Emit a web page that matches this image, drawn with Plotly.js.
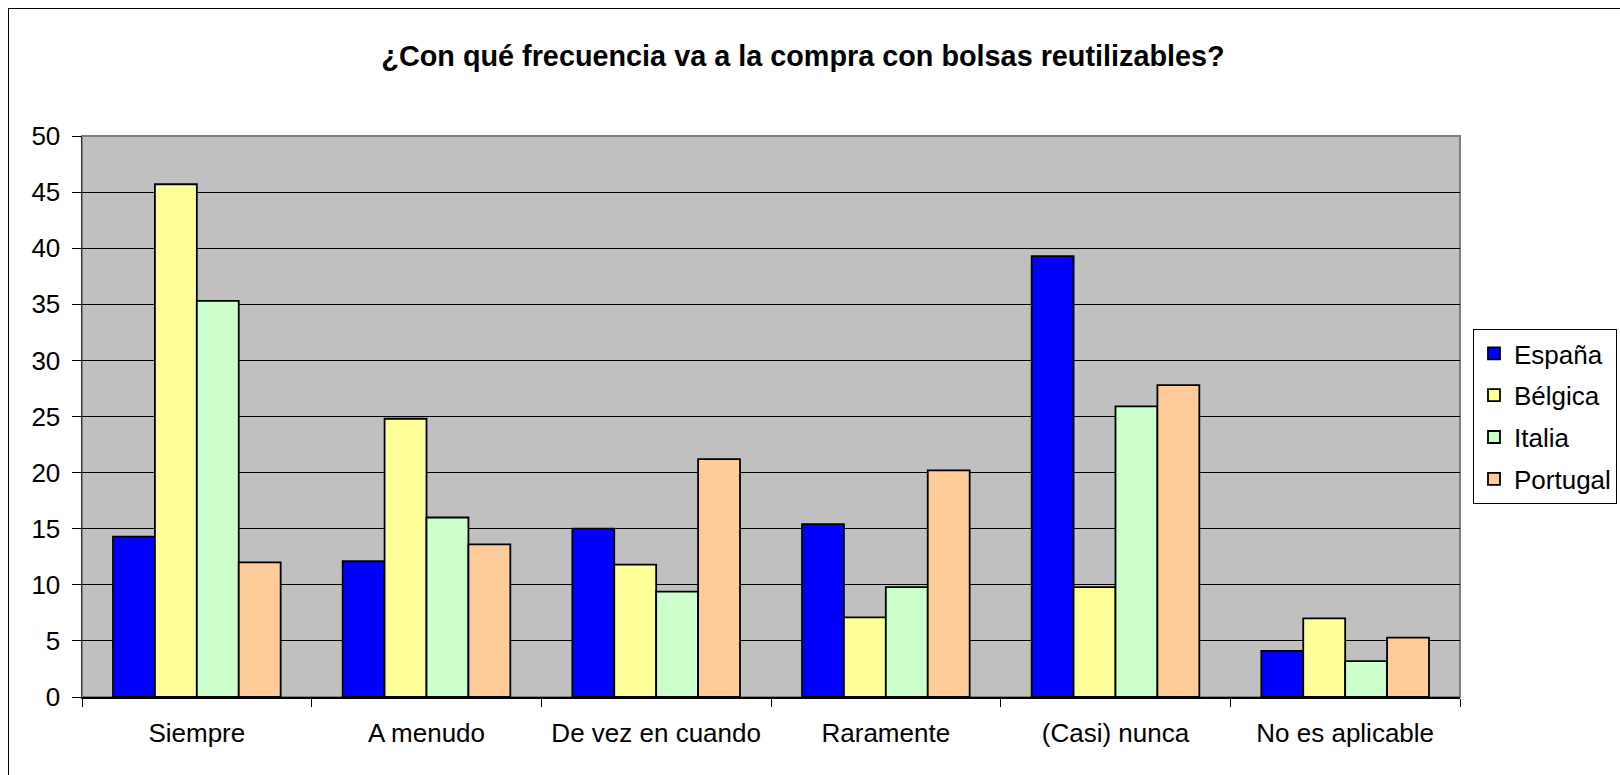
<!DOCTYPE html>
<html>
<head>
<meta charset="utf-8">
<script src="https://cdn.plot.ly/plotly-3.0.1.min.js"></script>
<style>
    body { margin: 0; background: #fff; }
    #chart { width: 1620px; height: 775px; position: relative; }
    #frame { position: absolute; left: 8px; top: 8px; width: 1640px; height: 800px; border: 1px solid #000; pointer-events: none; }
</style>
</head>
<body>
<div id="chart"></div>
<div id="frame"></div>
<script>
// answers
const categories = ['Siempre', 'A menudo', 'De vez en cuando', 'Raramente', '(Casi) nunca', 'No es aplicable'];

// percentages per country
const espana   = [14.3, 12.1, 15.0, 15.4, 39.3, 4.1];
const belgica  = [45.7, 24.8, 11.8, 7.1, 9.8, 7.0];
const italia   = [35.3, 16.0, 9.4, 9.8, 25.9, 3.2];
const portugal = [12.0, 13.6, 21.2, 20.2, 27.8, 5.3];

const seriesNames = ['España', 'Bélgica', 'Italia', 'Portugal'];
const seriesColors = ['#0000FF', '#FFFF99', '#CCFFCC', '#FFCC99'];
const yTicks = [0, 5, 10, 15, 20, 25, 30, 35, 40, 45, 50];

const FONT = 'Arial, "Liberation Sans", sans-serif';

const traces = [espana, belgica, italia, portugal].map((vals, i) => ({
    type: 'bar',
    name: seriesNames[i],
    x: categories,
    y: vals,
    legendgroup: 'g' + i,
    marker: { color: seriesColors[i], line: { color: '#000', width: 1.8 } },
    hoverinfo: 'x+y+name',
}));

// plot area spans x 82..1460 px, the legend sits in the paper space to its right
const plotRight = (1460 - 82) / (1620 - 82 - 3);

const layout = {
    width: 1620,
    height: 775,
    margin: { l: 82, r: 3, t: 136, b: 78 },
    paper_bgcolor: '#fff',
    plot_bgcolor: '#C0C0C0',
    font: { family: FONT, color: '#000', size: 26 },
    title: {
        text: '<b>¿Con qué frecuencia va a la compra con bolsas reutilizables?</b>',
        font: { family: FONT, size: 28.8, color: '#000' },
        x: 803 / 1620, xanchor: 'center',
        y: 1 - 56 / 775, yanchor: 'middle', yref: 'container',
    },
    barmode: 'group',
    bargap: 0.27,
    bargroupgap: 0,
    xaxis: {
        type: 'category',
        domain: [0, plotRight],
        tickson: 'boundaries',
        ticks: 'outside',
        ticklen: 8,
        tickcolor: '#000',
        showline: true,
        linecolor: '#000',
        linewidth: 1.5,
        showgrid: false,
        tickfont: { size: 26 },
        ticklabelstandoff: 12,
    },
    yaxis: {
        range: [0, 50],
        tickvals: yTicks,
        ticks: 'outside',
        ticklen: 9,
        tickcolor: '#000',
        showline: true,
        linecolor: '#333',
        linewidth: 1.5,
        showgrid: true,
        gridcolor: '#000',
        gridwidth: 1,
        zeroline: false,
        tickfont: { size: 26 },
        ticklabelstandoff: 6,
    },
    legend: {
        x: 1, xanchor: 'right',
        y: 0.5, yanchor: 'middle',
        bgcolor: '#fff',
        bordercolor: '#000',
        borderwidth: 1,
        font: { size: 26 },
        traceorder: 'grouped',
        tracegroupgap: 5,
    },
    shapes: [{
        type: 'rect', xref: 'x domain', yref: 'y domain',
        x0: 0, x1: 1, y0: 0, y1: 1,
        line: { color: '#808080', width: 2 },
        layer: 'below',
    }],
    showlegend: true,
};

Plotly.newPlot('chart', traces, layout, { displayModeBar: false, staticPlot: true });
</script>
</body>
</html>
